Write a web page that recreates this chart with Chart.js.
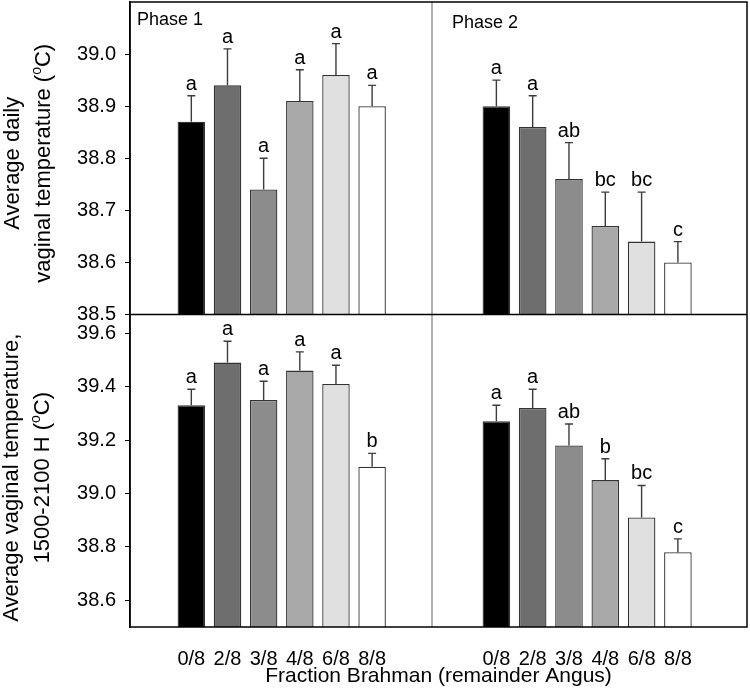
<!DOCTYPE html>
<html>
<head>
<meta charset="utf-8">
<script src="https://cdn.jsdelivr.net/npm/chart.js@4.4.0/dist/chart.umd.min.js"></script>
<style>
  html, body { margin: 0; padding: 0; background: #fff; }
</style>
</head>
<body>
<canvas id="grafico" width="750" height="696"></canvas>
<script>
// categorias e cores das barras
const categorias = ['0/8', '2/8', '3/8', '4/8', '6/8', '8/8'];
const cores = ['#000000', '#6e6e6e', '#8c8c8c', '#a8a8a8', '#e0e0e0', '#ffffff'];

// temperatura media diaria
const diariaFase1 = [38.87, 38.94, 38.74, 38.91, 38.96, 38.90];
const diariaFase1Ep = [0.05, 0.07, 0.06, 0.06, 0.06, 0.04];
const diariaFase1Letras = ['a', 'a', 'a', 'a', 'a', 'a'];
const diariaFase2 = [38.90, 38.86, 38.76, 38.67, 38.64, 38.60];
const diariaFase2Ep = [0.05, 0.06, 0.07, 0.065, 0.095, 0.04];
const diariaFase2Letras = ['a', 'a', 'ab', 'bc', 'bc', 'c'];

// temperatura media 1500-2100 H
const tardeFase1 = [39.33, 39.49, 39.35, 39.46, 39.41, 39.10];
const tardeFase1Ep = [0.06, 0.08, 0.07, 0.07, 0.07, 0.05];
const tardeFase1Letras = ['a', 'a', 'a', 'a', 'a', 'b'];
const tardeFase2 = [39.27, 39.32, 39.18, 39.05, 38.91, 38.78];
const tardeFase2Ep = [0.06, 0.07, 0.08, 0.08, 0.12, 0.05];
const tardeFase2Letras = ['a', 'a', 'ab', 'b', 'bc', 'c'];

// marcas dos eixos y
const ticksDiaria = [38.5, 38.6, 38.7, 38.8, 38.9, 39.0];
const ticksTarde = [38.6, 38.8, 39.0, 39.2, 39.4, 39.6];

const fonte = '"Liberation Sans", Arial, sans-serif';
Chart.defaults.font.family = fonte;
Chart.defaults.color = '#000';

const pontos = (valores) => valores.map((v, i) => ({ x: i + 1, y: v }));

const serie = (valores, erros, letras, eixoX, eixoY) => ({
  data: pontos(valores),
  erros: erros,
  letras: letras,
  xAxisID: eixoX,
  yAxisID: eixoY,
  backgroundColor: cores,
  borderColor: '#333',
  borderWidth: 1.3,
  barPercentage: 0.76,
  categoryPercentage: 1,
  grouped: false
});

// barras de erro e letras de significancia
const pluginErros = {
  id: 'pluginErros',
  afterDatasetsDraw(chart) {
    const { ctx } = chart;
    chart.data.datasets.forEach((ds, di) => {
      const meta = chart.getDatasetMeta(di);
      const y = chart.scales[ds.yAxisID];
      meta.data.forEach((barra, i) => {
        const topo = y.getPixelForValue(ds.data[i].y + ds.erros[i]);
        ctx.save();
        ctx.strokeStyle = '#3c3c3c';
        ctx.lineWidth = 1.4;
        ctx.beginPath();
        ctx.moveTo(barra.x, barra.y);
        ctx.lineTo(barra.x, topo);
        ctx.moveTo(barra.x - 4, topo);
        ctx.lineTo(barra.x + 4, topo);
        ctx.stroke();
        ctx.fillStyle = '#000';
        ctx.font = '20px ' + fonte;
        ctx.textAlign = 'center';
        ctx.textBaseline = 'alphabetic';
        ctx.fillText(ds.letras[i], barra.x, topo - 6);
        ctx.restore();
      });
    });
  }
};

// moldura, divisoria e titulos
const pluginMoldura = {
  id: 'pluginMoldura',
  afterDraw(chart) {
    const { ctx, chartArea: a, scales } = chart;
    ctx.save();
    ctx.strokeStyle = '#999';
    ctx.lineWidth = 1.5;
    ctx.beginPath();
    ctx.moveTo(scales.x1.right, a.top);
    ctx.lineTo(scales.x1.right, a.bottom);
    ctx.stroke();

    ctx.strokeStyle = '#000';
    ctx.lineWidth = 1.5;
    ctx.strokeRect(a.left, a.top, a.right - a.left, a.bottom - a.top);
    ctx.beginPath();
    ctx.moveTo(a.left, scales.yTop.bottom);
    ctx.lineTo(a.right, scales.yTop.bottom);
    ctx.stroke();

    ctx.fillStyle = '#000';
    ctx.font = '18px ' + fonte;
    ctx.textAlign = 'left';
    ctx.fillText('Phase 1', a.left + 7, a.top + 23);
    ctx.fillText('Phase 2', scales.x2.left + 20, a.top + 26);

    ctx.font = '21px ' + fonte;
    ctx.textAlign = 'center';
    ctx.fillText('Fraction Brahman (remainder Angus)', (a.left + a.right) / 2, 682);

    const meioTop = (scales.yTop.top + scales.yTop.bottom) / 2 + 5;
    const meioBot = (scales.yBot.top + scales.yBot.bottom) / 2 + 7;
    tituloY(ctx, 'Average daily', '', '', 19, meioTop);
    tituloY(ctx, 'vaginal temperature (', 'o', 'C)', 50, meioTop);
    tituloY(ctx, 'Average vaginal temperature,', '', '', 18, meioBot);
    tituloY(ctx, '1500-2100 H (', 'o', 'C)', 49, meioBot);
    ctx.restore();
  }
};

function tituloY(ctx, antes, sobrescrito, depois, x, y) {
  ctx.save();
  ctx.translate(x, y);
  ctx.rotate(-Math.PI / 2);
  ctx.textAlign = 'left';
  ctx.textBaseline = 'alphabetic';
  ctx.font = '22px ' + fonte;
  const w1 = ctx.measureText(antes).width;
  const w3 = ctx.measureText(depois).width;
  ctx.font = '14px ' + fonte;
  const w2 = ctx.measureText(sobrescrito).width;
  const inicio = -(w1 + w2 + w3) / 2;
  ctx.font = '22px ' + fonte;
  ctx.fillText(antes, inicio, 0);
  ctx.font = '14px ' + fonte;
  ctx.fillText(sobrescrito, inicio + w1, -9);
  ctx.font = '22px ' + fonte;
  ctx.fillText(depois, inicio + w1 + w2, 0);
  ctx.restore();
}

const eixoX = (min, max, peso, pesoStack) => ({
  type: 'linear',
  position: 'bottom',
  stack: 'colunas',
  stackWeight: pesoStack,
  weight: peso,
  min: min,
  max: max,
  grid: { display: false },
  border: { display: false },
  afterBuildTicks: (s) => { s.ticks = categorias.map((c, i) => ({ value: i + 1 })); },
  afterFit: (s) => { s.height = 69; s.paddingLeft = 0; s.paddingRight = 0; },
  ticks: {
    font: { size: 20 },
    padding: 12,
    maxRotation: 0,
    autoSkip: false,
    callback: (v, i) => categorias[i]
  }
});

const eixoY = (min, max, marcas, peso) => ({
  type: 'linear',
  position: 'left',
  stack: 'linhas',
  stackWeight: 1,
  weight: peso,
  min: min,
  max: max,
  border: { display: true, color: '#000', width: 1.5 },
  grid: { drawOnChartArea: false, drawTicks: true, tickLength: 5, color: '#000' },
  afterBuildTicks: (s) => { s.ticks = marcas.map(v => ({ value: v })); },
  afterFit: (s) => { s.width = 130; s.paddingTop = 0; s.paddingBottom = 0; },
  ticks: {
    font: { size: 20 },
    padding: 9,
    callback: (v) => v.toFixed(1)
  }
});

new Chart(document.getElementById('grafico'), {
  type: 'bar',
  data: {
    datasets: [
      serie(diariaFase1, diariaFase1Ep, diariaFase1Letras, 'x1', 'yTop'),
      serie(diariaFase2, diariaFase2Ep, diariaFase2Letras, 'x2', 'yTop'),
      serie(tardeFase1, tardeFase1Ep, tardeFase1Letras, 'x1', 'yBot'),
      serie(tardeFase2, tardeFase2Ep, tardeFase2Letras, 'x2', 'yBot')
    ]
  },
  options: {
    responsive: false,
    animation: false,
    devicePixelRatio: 1,
    layout: { padding: { top: 2, right: 3, left: 0, bottom: 0 } },
    plugins: {
      legend: { display: false },
      tooltip: { enabled: false }
    },
    scales: {
      x1: eixoX(0, 6.96, 0, 302),
      x2: eixoX(-0.05, 7.18, 1, 315),
      yBot: eixoY(38.5, 39.67, ticksTarde, 0),
      yTop: eixoY(38.5, 39.1, ticksDiaria, 1)
    }
  },
  plugins: [pluginErros, pluginMoldura]
});
</script>
</body>
</html>
